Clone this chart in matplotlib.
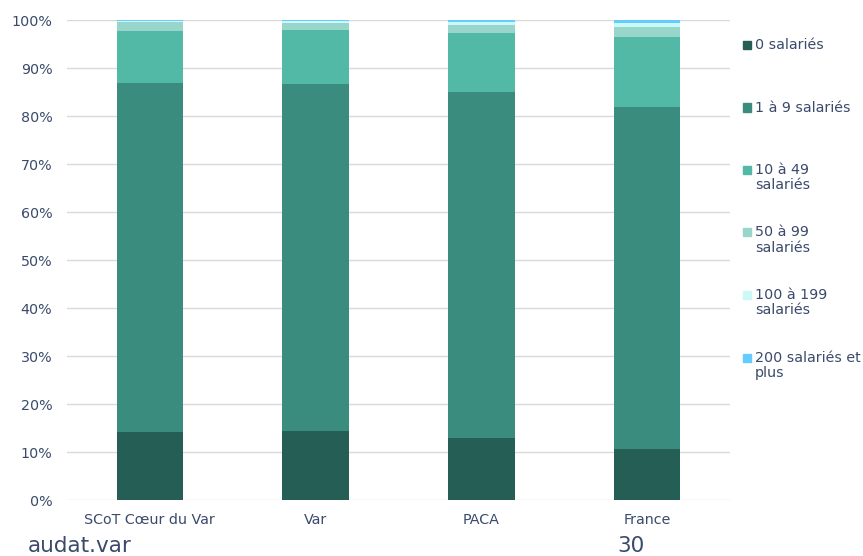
import matplotlib.pyplot as plt
from matplotlib.patches import Rectangle
from matplotlib.ticker import PercentFormatter
import numpy as np

categories = ["SCoT Cœur du Var", "Var", "PACA", "France"]
series = ["0 salariés", "1 à 9 salariés", "10 à 49\nsalariés", "50 à 99\nsalariés",
          "100 à 199\nsalariés", "200 salariés et\nplus"]
v_0 = [14.2, 14.4, 12.85, 10.55]
v_1_9 = [72.7, 72.3, 72.15, 71.3]
v_10_49 = [10.9, 11.2, 12.35, 14.6]
v_50_99 = [1.85, 1.4, 1.6, 2.1]
v_100_199 = [0.2, 0.5, 0.7, 0.9]
v_200 = [0.15, 0.2, 0.35, 0.55]

colors = ["#255e55", "#3a8c7e", "#52b9a6", "#98d5ca", "#ccf8f8", "#66ccff"]
text_color = "#3b4a6b"
fs = 10.3

plt.rcParams['font.family'] = ['DejaVu Sans']

fig = plt.figure(figsize=(8.63, 5.56), dpi=100)
ax = fig.add_axes([0.0776, 0.1007, 0.7684, 0.8633])

x = np.arange(len(categories))
bottom = np.zeros(len(categories))
for vals, col in zip([v_0, v_1_9, v_10_49, v_50_99, v_100_199, v_200], colors):
    ax.bar(x, vals, bottom=bottom, width=0.4, color=col, linewidth=0, zorder=3)
    bottom += np.array(vals)

ax.set_xlim(-0.5, 3.5)
ax.set_ylim(0, 100)
ax.set_yticks(range(0, 101, 10))
ax.yaxis.set_major_formatter(PercentFormatter(decimals=0))
ax.set_xticks(x)
ax.set_xticklabels(categories)
ax.grid(axis='y', color="#d9d9d9", linewidth=1, zorder=0)
for s in ax.spines.values():
    s.set_visible(False)
ax.tick_params(length=0, colors=text_color, labelsize=fs)
ax.tick_params(axis='y', pad=10.5)
ax.tick_params(axis='x', pad=9)

# legend drawn by hand so every entry starts on the same step
for i, (lab, col) in enumerate(zip(series, colors)):
    ytop = 45 + i * 62.5
    fy = 1 - ytop / 556
    fig.patches.append(Rectangle((743 / 863, fy - 4 / 556), 8 / 863, 8 / 556,
                                 transform=fig.transFigure, color=col))
    fig.text(755 / 863, fy + 7 / 556, lab, ha='left', va='top',
             fontsize=fs, color=text_color, linespacing=1.1)

fig.text(28 / 863, 1 - 546 / 556, "audat.var", fontsize=15.5, color=text_color, va='center')
fig.text(617 / 863, 1 - 546 / 556, "30", fontsize=15.5, color=text_color, va='center')

fig.savefig("out.png", dpi=100)
